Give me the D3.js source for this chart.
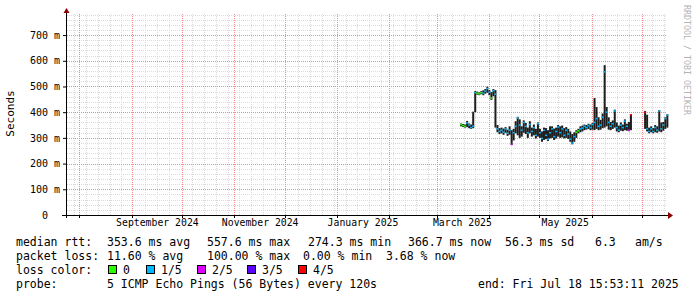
<!DOCTYPE html>
<html>
<head>
<meta charset="utf-8">
<script src="https://cdn.jsdelivr.net/npm/d3@7"></script>
<style>
  body { margin: 0; background: #fff; }
  svg { display: block; }
  text { font-family: "DejaVu Sans Mono", monospace; white-space: pre; }
</style>
</head>
<body>
<svg id="chart" width="697" height="297"></svg>
<script>
// graph window
const endTime = new Date("2025-07-18T15:53:11");
const spanDays = 359;

// y axis ticks (ms)
const yTicks = [0, 100, 200, 300, 400, 500, 600, 700];
const yMax = 782;

// x labels (centred mid-month like rrdtool)
const xLabelDates = ["2024-09-16", "2024-11-16", "2025-01-16", "2025-03-16", "2025-05-16"];
const xLabelText = ["September 2024", "November 2024", "January 2025", "March 2025", "May 2025"];
// month grid lines
const monthStarts = ["2024-08-01", "2024-09-01", "2024-10-01", "2024-11-01", "2024-12-01", "2025-01-01",
  "2025-02-01", "2025-03-01", "2025-04-01", "2025-05-01", "2025-06-01", "2025-07-01"];

// measurement buckets, 1.2 days each, starting here
const seriesStart = new Date("2025-03-15T12:00:00");
const bucketDays = 1.2;

// median rtt (ms)
const median = [352, 348, 345, 358, 350, 340, 345, 476, 474, 471,
  476, 474, 482, 492, 478, 455, 484, 470, 335, 325,
  330, 322, 335, 318, 330, 275, 320, 345, 378, 350,
  330, 360, 345, 320, 352, 325, 340, 310, 355, 320,
  298, 330, 310, 295, 320, 335, 305, 325, 342, 320,
  335, 310, 330, 315, 295, 280, 305, 322, 328, 335,
  338, 345, 340, 348, 340, 352, 360, 375, 345, 350,
  380, 557, 400, 360, 345, 355, 405, 340, 330, 350,
  340, 365, 345, 330, 390, null, null, null, null, null,
  null, 400, 335, 325, 335, 325, 340, 330, 405, 335,
  350, 375, 389];
// smoke low / high (ms)
const smokeLo = [345, 342, 340, 342, 338, 335, 338, 400, 468, 466,
  470, 466, 472, 476, 466, 448, 462, 340, 322, 315,
  318, 312, 320, 308, 312, 272, 290, 318, 310, 300,
  305, 320, 315, 300, 318, 305, 310, 298, 305, 300,
  285, 292, 295, 288, 298, 300, 292, 298, 305, 300,
  302, 298, 300, 296, 285, 275, 285, 300, 318, 322,
  325, 330, 332, 335, 330, 332, 330, 335, 330, 332,
  338, 340, 345, 332, 330, 335, 340, 325, 322, 328,
  326, 330, 328, 326, 330, null, null, null, null, null,
  null, 335, 325, 318, 322, 318, 322, 320, 325, 322,
  328, 335, 340];
const smokeHi = [356, 354, 352, 366, 356, 352, 402, 482, 480, 477,
  482, 485, 490, 499, 486, 478, 490, 486, 350, 338,
  340, 336, 342, 332, 345, 330, 335, 365, 382, 372,
  345, 368, 358, 340, 365, 340, 352, 335, 360, 335,
  325, 340, 338, 330, 345, 345, 336, 340, 350, 345,
  348, 338, 342, 335, 325, 315, 322, 330, 335, 345,
  348, 352, 350, 355, 352, 358, 455, 420, 380, 370,
  395, 583, 420, 380, 362, 368, 410, 360, 348, 360,
  352, 372, 355, 362, 392, null, null, null, null, null,
  null, 405, 390, 340, 345, 338, 350, 345, 408, 360,
  362, 380, 392];
// lost pings out of 5
const loss = [0, 0, 0, 1, 1, 1, 1, 1, 0, 0,
  0, 1, 1, 1, 1, 0, 1, 1, 1, 1,
  1, 1, 1, 1, 1, 2, 1, 1, 1, 1,
  1, 1, 1, 1, 1, 1, 1, 1, 1, 1,
  1, 1, 1, 1, 1, 1, 1, 1, 1, 1,
  1, 1, 1, 1, 1, 1, 1, 0, 0, 1,
  1, 1, 1, 1, 1, 1, 1, 1, 1, 1,
  1, 1, 1, 1, 1, 1, 1, 1, 1, 1,
  1, 1, 1, 2, 4, 0, 0, 0, 0, 0,
  0, 4, 1, 1, 1, 1, 1, 1, 1, 1,
  1, 1, 1];

const lossNames = ["0", "1/5", "2/5", "3/5", "4/5"];
const lossColors = ["#26ff00", "#00b8ff", "#dd00ff", "#5e00ff", "#ff0000"];

// legend rows
const rttItems = ["median rtt:", "353.6 ms avg", "557.6 ms max", "274.3 ms min", "366.7 ms now", "56.3 ms sd", "6.3", "am/s"];
const lossItems = ["packet loss:", "11.60 % avg", "100.00 % max", "0.00 % min", "3.68 % now"];
const probeItems = ["probe:", "5 ICMP Echo Pings (56 Bytes) every 120s", "end: Fri Jul 18 15:53:11 2025"];

const svg = d3.select("#chart");
const plotLeft = 67, plotRight = 672, plotTop = 14, plotBottom = 215;
const gridRight = 667;

const x = d3.scaleTime()
  .domain([d3.timeHour.offset(endTime, -spanDays * 24), endTime])
  .range([plotLeft, plotRight]);
const y = d3.scaleLinear().domain([0, yMax]).range([plotBottom, plotTop]);
const px = (v) => Math.round(v) + 0.5;

// grid
const minorY = d3.range(20, yMax, 20).filter((v) => v % 100 !== 0);
const months = monthStarts.map((s) => new Date(s + "T00:00:00"));
const weeks = d3.timeMonday.range(x.domain()[0], endTime)
  .filter((d) => x(d) <= gridRight && months.every((m) => Math.abs(x(m) - x(d)) > 3));

const gridLayer = svg.append("g").attr("class", "grid");
gridLayer.selectAll("line.hmin").data(minorY).join("line").attr("class", "hmin")
  .attr("x1", plotLeft).attr("x2", gridRight)
  .attr("y1", (d) => px(y(d))).attr("y2", (d) => px(y(d)))
  .attr("stroke", "#dadada").attr("stroke-dasharray", "1,1");
gridLayer.selectAll("line.vmin").data(weeks).join("line").attr("class", "vmin")
  .attr("x1", (d) => px(x(d))).attr("x2", (d) => px(x(d)))
  .attr("y1", plotTop).attr("y2", plotBottom)
  .attr("stroke", "#dadada").attr("stroke-dasharray", "1,1");
gridLayer.selectAll("line.hmaj").data(yTicks.slice(1)).join("line").attr("class", "hmaj")
  .attr("x1", plotLeft).attr("x2", gridRight)
  .attr("y1", (d) => px(y(d))).attr("y2", (d) => px(y(d)))
  .attr("stroke", "#f08c8c").attr("stroke-dasharray", "1,1");
gridLayer.selectAll("line.vmaj").data(months).join("line").attr("class", "vmaj")
  .attr("x1", (d) => px(x(d))).attr("x2", (d) => px(x(d)))
  .attr("y1", plotTop).attr("y2", plotBottom)
  .attr("stroke", "#f08c8c").attr("stroke-dasharray", "1,1");

// data
const buckets = median.map((m, i) => ({
  t: new Date(+seriesStart + i * bucketDays * 864e5),
  med: m, lo: smokeLo[i], hi: smokeHi[i], loss: loss[i]
})).filter((d) => d.med != null);

const plot = svg.append("g").attr("class", "data");
plot.selectAll("rect.smoke").data(buckets).join("rect")
  .attr("class", "smoke")
  .attr("x", (d) => x(d.t) - 1)
  .attr("width", 2)
  .attr("y", (d) => y(d.hi))
  .attr("height", (d) => y(d.lo) - y(d.hi))
  .attr("fill", "#1e1e1e");
plot.selectAll("rect.med").data(buckets).join("rect")
  .attr("class", "med")
  .attr("x", (d) => x(d.t) - 1)
  .attr("width", 2)
  .attr("y", (d) => y(d.med) - 0.75)
  .attr("height", 1.5)
  .attr("fill", (d) => lossColors[d.loss]);

// axes
const axisColor = "#000";
const arrowColor = "#8b0000";
svg.append("line").attr("x1", 62).attr("x2", 668).attr("y1", plotBottom + 0.5).attr("y2", plotBottom + 0.5).attr("stroke", axisColor);
svg.append("line").attr("x1", plotLeft - 0.5).attr("x2", plotLeft - 0.5).attr("y1", plotBottom + 3).attr("y2", 12).attr("stroke", axisColor);
svg.append("path").attr("d", "M668,212 L673,215.5 L668,219 Z").attr("fill", arrowColor);
svg.append("path").attr("d", "M63.5,13 L66.5,8 L69.5,13 Z").attr("fill", arrowColor);

// month ticks under the axis
svg.append("g").attr("class", "mticks").selectAll("line").data(months).join("line")
  .attr("x1", (d) => px(x(d))).attr("x2", (d) => px(x(d)))
  .attr("y1", plotBottom).attr("y2", plotBottom + 3).attr("stroke", axisColor);

const labelDates = xLabelDates.map((s) => new Date(s + "T00:00:00"));
const xAxis = d3.axisBottom(x).tickValues(labelDates).tickSize(0).tickPadding(0)
  .tickFormat((d, i) => xLabelText[i]);
svg.append("g").attr("transform", `translate(0,${plotBottom + 4})`).call(xAxis)
  .call((g) => g.select(".domain").remove())
  .call((g) => g.selectAll(".tick line").remove())
  .selectAll("text").attr("font-family", "DejaVu Sans Mono").attr("font-size", 9.8)
  .attr("fill", "#000").attr("dy", "0.71em");

const yAxis = d3.axisLeft(y).tickValues(yTicks).tickSize(4).tickPadding(3)
  .tickFormat((d) => (d === 0 ? "0  " : d + " m"));
svg.append("g").attr("transform", `translate(${plotLeft},0)`).call(yAxis)
  .call((g) => g.select(".domain").remove())
  .call((g) => g.selectAll(".tick line").attr("stroke", axisColor))
  .selectAll("text").attr("font-family", "DejaVu Sans Mono").attr("font-size", 10)
  .attr("fill", "#000");

svg.append("text").attr("transform", "translate(14,113.5) rotate(-90)")
  .attr("text-anchor", "middle").attr("font-size", 11).text("Seconds");

svg.append("text").attr("transform", "translate(684,5) rotate(90)")
  .attr("font-size", 8.3).attr("fill", "#b4b4b4").text("RRDTOOL / TOBI OETIKER");

// legend
const fs = 11.5;
const row = (items, xs, yy) => svg.append("g").selectAll("text").data(items).join("text")
  .attr("x", (d, i) => xs[i]).attr("y", yy).attr("font-size", fs).attr("fill", "#000").text((d) => d);
row(rttItems, [16, 107, 207, 308, 408, 505, 595, 635], 246);
row(lossItems, [16, 107, 207, 303, 386], 260);
row(["loss color:"], [16], 274);
const lossX = [108, 146, 197, 247, 298];
const lg = svg.append("g").selectAll("g").data(lossNames).join("g")
  .attr("transform", (d, i) => `translate(${lossX[i]},265)`);
lg.append("rect").attr("x", 0.5).attr("y", 0.5).attr("width", 8).attr("height", 8)
  .attr("fill", (d, i) => lossColors[i]).attr("stroke", "#000");
lg.append("text").attr("x", 15).attr("y", 9).attr("font-size", fs).text((d) => d);
row(probeItems, [16, 107, 478], 288);
</script>
</body>
</html>
